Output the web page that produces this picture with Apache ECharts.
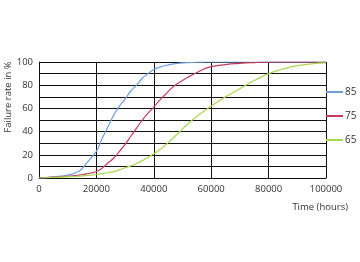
<!DOCTYPE html>
<html>
<head>
<meta charset="utf-8">
<script src="https://cdn.jsdelivr.net/npm/echarts@6/dist/echarts.min.js"></script>
<style>
  html, body { margin: 0; padding: 0; background: #fff; }
  #chart { width: 360px; height: 262px; }
</style>
</head>
<body>
<div id="chart"></div>
<script>
// time points (hours)
var hours = [0, 5000, 10000, 14000, 16000, 18000, 20000, 22000, 24000, 26000, 28000, 30000, 32000, 34000, 36000, 38000, 40000, 42000, 44000, 46000, 48000, 50000, 52000, 55000, 58000, 60000, 65000, 70000, 75000, 80000, 85000, 90000, 95000, 100000];
var seriesNames = ['85', '75', '65'];
var temp85 = [0, 1, 2.5, 6, 11, 17, 23, 34, 44, 54, 62, 68, 75, 80, 86, 90, 93.5, 95.5, 97, 98, 98.7, 99.2, 99.5, 99.8, 100, 100, 100, 100, 100, 100, 100, 100, 100, 100];
var temp75 = [0, 0.8, 1.5, 2.5, 3.3, 4.3, 5.6, 8.5, 13, 17, 23, 29, 36, 43, 50, 56, 61, 67, 72, 77, 81, 84, 87, 91, 94.5, 96, 97.8, 98.8, 99.5, 100, 100, 100, 100, 100];
var temp65 = [0, 0.5, 1, 1.5, 2, 2.4, 3, 3.7, 4.5, 5.5, 7, 8.8, 10.5, 12.5, 15, 17.8, 20.8, 24.3, 28.3, 32.8, 37.5, 42.3, 47, 53, 58.5, 62, 70, 77, 84, 90, 94, 96.8, 98.4, 99.2];
var colors = ['#6f9de3', '#c73a5c', '#a9d74f'];

function pairs(vals) {
    return hours.map(function (h, i) { return [h, vals[i]]; });
}

var myChart = echarts.init(document.getElementById('chart'));
var font = 'Open Sans';

var option = {
    animation: false,
    grid: { left: 39, right: 34, top: 62, bottom: 84, containLabel: false, outerBoundsMode: 'none' },
    legend: {
        orient: 'vertical',
        left: 326,
        top: 87,
        padding: 0,
        itemGap: 14,
        itemWidth: 17,
        itemHeight: 2,
        icon: 'rect',
        data: seriesNames,
        textStyle: { fontFamily: font, fontSize: 10, color: '#333', padding: [0, 0, 0, -3] }
    },
    xAxis: {
        type: 'value',
        min: 0,
        max: 100000,
        interval: 20000,
        name: 'Time (hours)',
        nameLocation: 'end',
        nameGap: 0,
        nameTextStyle: { fontFamily: font, fontSize: 9.5, color: '#333', align: 'right', verticalAlign: 'top', padding: [24, -22, 0, 0] },
        axisLine: { lineStyle: { color: '#111', width: 1 } },
        axisTick: { show: false },
        axisLabel: {
            fontFamily: font, fontSize: 9.5, color: '#333', margin: 6,
            formatter: function (v) { return String(v); }
        },
        splitLine: { show: true, lineStyle: { color: '#111', width: 1 } }
    },
    yAxis: {
        type: 'value',
        min: 0,
        max: 100,
        interval: 10,
        name: 'Failure rate in %',
        nameLocation: 'middle',
        nameGap: 26,
        nameMoveOverlap: false,
        nameTextStyle: { fontFamily: font, fontSize: 9.5, color: '#333', padding: [0, 0, 0, 46] },
        axisLine: { show: true, lineStyle: { color: '#111', width: 1 } },
        axisTick: { show: false },
        axisLabel: {
            fontFamily: font, fontSize: 9.5, color: '#333', margin: 6,
            formatter: function (v) { return v % 20 === 0 ? v : ''; }
        },
        splitLine: { show: true, lineStyle: { color: '#111', width: 1 } }
    },
    series: [
        { name: seriesNames[0], type: 'line', smooth: true, showSymbol: false, data: pairs(temp85), lineStyle: { color: colors[0], width: 1.2 }, itemStyle: { color: colors[0] } },
        { name: seriesNames[1], type: 'line', smooth: true, showSymbol: false, data: pairs(temp75), lineStyle: { color: colors[1], width: 1.2 }, itemStyle: { color: colors[1] } },
        { name: seriesNames[2], type: 'line', smooth: true, showSymbol: false, data: pairs(temp65), lineStyle: { color: colors[2], width: 1.2 }, itemStyle: { color: colors[2] } }
    ]
};

myChart.setOption(option);
</script>
</body>
</html>
